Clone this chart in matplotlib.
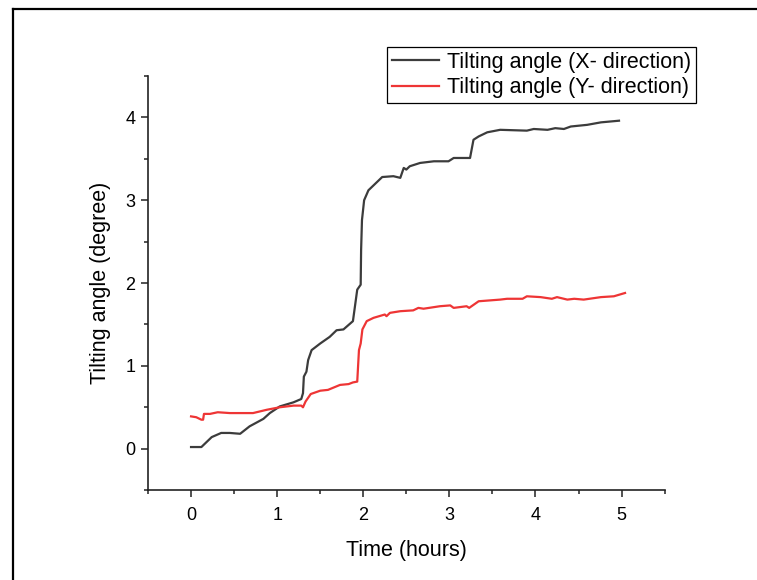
import numpy as np
import matplotlib
matplotlib.use("Agg")
import matplotlib.pyplot as plt
from matplotlib.lines import Line2D
from matplotlib.ticker import MultipleLocator

plt.rcParams['font.family'] = ['Liberation Sans', 'DejaVu Sans']

# --- data ---
t_x = [0.00, 0.12, 0.24, 0.35, 0.45, 0.57, 0.68, 0.84, 0.915, 1.03, 1.19, 1.28,
       1.30, 1.31, 1.34, 1.36, 1.40, 1.50, 1.61, 1.69, 1.77, 1.88, 1.93, 1.97,
       1.975, 1.985, 2.01, 2.06, 2.12, 2.22, 2.35, 2.43, 2.47, 2.50, 2.54, 2.66,
       2.82, 2.99, 3.05, 3.24, 3.28, 3.34, 3.44, 3.59, 3.90, 3.98, 4.14, 4.23,
       4.33, 4.41, 4.60, 4.76, 4.97]
ang_x = [0.02, 0.02, 0.14, 0.19, 0.19, 0.18, 0.27, 0.36, 0.43, 0.51, 0.56, 0.60,
         0.67, 0.87, 0.93, 1.07, 1.19, 1.27, 1.35, 1.43, 1.44, 1.54, 1.92, 1.98,
         2.40, 2.76, 3.00, 3.12, 3.18, 3.28, 3.29, 3.27, 3.39, 3.37, 3.41, 3.45,
         3.47, 3.47, 3.51, 3.51, 3.73, 3.77, 3.82, 3.85, 3.84, 3.86, 3.85, 3.87,
         3.86, 3.89, 3.91, 3.94, 3.96]

t_y = [0.00, 0.06, 0.12, 0.14, 0.15, 0.22, 0.31, 0.45, 0.72, 0.88, 1.03, 1.19,
       1.28, 1.30, 1.33, 1.39, 1.50, 1.59, 1.73, 1.83, 1.88, 1.93, 1.95, 1.97,
       1.99, 2.04, 2.12, 2.25, 2.27, 2.31, 2.43, 2.58, 2.64, 2.70, 2.89, 3.01,
       3.05, 3.20, 3.23, 3.34, 3.59, 3.67, 3.85, 3.90, 4.06, 4.19, 4.25, 4.37,
       4.45, 4.56, 4.76, 4.91, 5.04]
ang_y = [0.39, 0.38, 0.35, 0.35, 0.42, 0.42, 0.44, 0.43, 0.43, 0.47, 0.50, 0.52,
         0.52, 0.50, 0.57, 0.66, 0.70, 0.71, 0.77, 0.78, 0.80, 0.81, 1.19, 1.27,
         1.44, 1.54, 1.58, 1.62, 1.60, 1.64, 1.66, 1.67, 1.70, 1.69, 1.72, 1.73,
         1.70, 1.72, 1.70, 1.78, 1.80, 1.81, 1.81, 1.84, 1.83, 1.81, 1.83, 1.80,
         1.81, 1.80, 1.83, 1.84, 1.88]

fig = plt.figure(figsize=(7.57, 5.8), dpi=100)
ax = fig.add_axes([0.1955, 0.155, 0.6825, 0.714])

ax.plot(t_x, ang_x, color="#3c3c3c", lw=1.6, label="Tilting angle (X- direction)")
ax.plot(t_y, ang_y, color="#ee3535", lw=1.6, label="Tilting angle (Y- direction)")

ax.set_xlim(-0.5, 5.5)
ax.set_ylim(-0.5, 4.5)
ax.xaxis.set_major_locator(MultipleLocator(1))
ax.xaxis.set_minor_locator(MultipleLocator(0.5))
ax.yaxis.set_major_locator(MultipleLocator(1))
ax.yaxis.set_minor_locator(MultipleLocator(0.5))

for s in ["top", "right"]:
    ax.spines[s].set_visible(False)
for s in ["left", "bottom"]:
    ax.spines[s].set_linewidth(1.2)
    ax.spines[s].set_color("#222222")

ax.tick_params(which="major", direction="out", length=5, width=1.1,
               color="#222222", labelsize=13, pad=4)
ax.tick_params(axis="x", which="major", pad=7)
ax.tick_params(which="minor", direction="out", length=2.6, width=1.1,
               color="#222222")

ax.set_xlabel("Time (hours)", fontsize=15.5, labelpad=12)
ax.set_ylabel("Tilting angle (degree)", fontsize=15.5, labelpad=10)

leg = fig.legend(loc="upper right", bbox_to_anchor=(0.919, 0.919),
                 fontsize=15.5, frameon=True, fancybox=False, framealpha=1,
                 edgecolor="black", handlelength=2.2, handletextpad=0.35,
                 borderpad=0.22, labelspacing=0.22, borderaxespad=0)
leg.get_frame().set_linewidth(0.9)

# outer frame (left and top edges only)
fx = 12.5 / 757
fy = 1 - 8.5 / 580
fig.add_artist(Line2D([fx, fx], [0, fy], transform=fig.transFigure,
                      color="black", lw=1.6))
fig.add_artist(Line2D([fx, 1], [fy, fy], transform=fig.transFigure,
                      color="black", lw=1.6))

fig.savefig("out.png", dpi=100, facecolor="white")
